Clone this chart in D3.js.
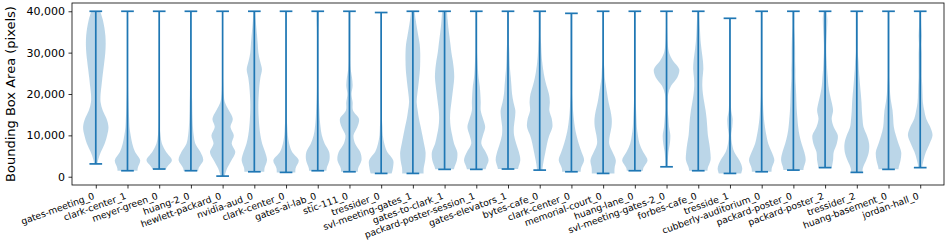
<!DOCTYPE html>
<html>
<head>
<meta charset="utf-8">
<script src="https://cdn.jsdelivr.net/npm/d3@7"></script>
<style>
  body { margin: 0; background: #fff; }
  text { font-family: "DejaVu Sans", sans-serif; fill: #000; }
</style>
</head>
<body>
<div id="violin-chart"></div>
<script>
var categories = ["gates-meeting_0", "clark-center_1", "meyer-green_0", "huang-2_0", "hewlett-packard_0",
    "nvidia-aud_0", "clark-center_0", "gates-ai-lab_0", "stic-111_0", "tressider_0", "svl-meeting-gates_1",
    "gates-to-clark_1", "packard-poster-session_1", "gates-elevators_1", "bytes-cafe_0", "clark-center_0",
    "memorial-court_0", "huang-lane_0", "svl-meeting-gates-2_0", "forbes-cafe_0", "tresside_1",
    "cubberly-auditorium_0", "packard-poster_0", "packard-poster_2", "tressider_2", "huang-basement_0",
    "jordan-hall_0"];

// min / max of each distribution (pixels)
var minValues = [3100, 1450, 1860, 1450, 150, 1200, 1050, 1450, 1200, 800, 800, 1780, 1780, 1860, 1600,
    1200, 800, 1450, 2400, 1450, 800, 1200, 1600, 2200, 1050, 1780, 2200];
var maxValues = [40000, 40000, 40000, 40000, 40000, 40000, 40000, 40000, 40000, 39700, 40000, 40000, 40000,
    40000, 40000, 39500, 40000, 40000, 40000, 40000, 38300, 40000, 40000, 40000, 40000, 40000, 40000];

// area levels where the density was read (0, 2000, ... 40000)
var areaLevels = [0, 2000, 4000, 6000, 8000, 10000, 12000, 14000, 16000, 18000, 20000,
    22000, 24000, 26000, 28000, 30000, 32000, 34000, 36000, 38000, 40000];

// relative density (% of the violin's widest point) at each level
var densities = [
    [8, 8, 18, 40, 70, 90, 100, 85, 55, 38, 38, 45, 52, 60, 68, 75, 78, 76, 68, 55, 35],
    [80, 80, 100, 60, 38, 25, 16, 13, 10, 8, 6, 5, 5, 5, 5, 5, 5, 5, 5, 5, 4],
    [55, 55, 100, 55, 22, 10, 5, 4, 3, 3, 3, 3, 3, 3, 3, 3, 3, 3, 3, 3, 3],
    [60, 60, 97, 75, 35, 22, 16, 13, 11, 10, 8, 7, 5, 5, 5, 5, 5, 5, 5, 5, 5],
    [14, 35, 70, 100, 72, 88, 62, 80, 50, 18, 8, 5, 3, 3, 3, 3, 3, 3, 3, 3, 3],
    [80, 80, 100, 85, 62, 48, 40, 35, 32, 32, 35, 40, 48, 60, 45, 32, 27, 22, 16, 11, 8],
    [75, 75, 100, 48, 25, 14, 10, 6, 5, 5, 5, 5, 5, 5, 5, 5, 5, 5, 5, 5, 5],
    [70, 70, 92, 90, 55, 32, 22, 16, 13, 10, 8, 7, 7, 7, 7, 7, 7, 7, 8, 10, 10],
    [68, 68, 95, 85, 45, 32, 62, 75, 28, 25, 16, 25, 20, 10, 7, 7, 7, 7, 7, 7, 7],
    [75, 92, 95, 48, 25, 13, 10, 6, 6, 6, 6, 6, 6, 6, 6, 6, 6, 6, 6, 6, 6],
    [85, 85, 97, 100, 88, 75, 62, 48, 38, 30, 35, 43, 50, 56, 58, 58, 54, 43, 32, 22, 14],
    [75, 75, 97, 100, 75, 60, 48, 43, 46, 54, 62, 70, 76, 73, 65, 54, 46, 38, 30, 24, 19],
    [75, 75, 97, 74, 40, 53, 70, 53, 35, 35, 32, 27, 18, 13, 10, 7, 7, 7, 7, 7, 7],
    [80, 80, 97, 86, 65, 48, 46, 54, 58, 43, 32, 27, 22, 16, 13, 11, 8, 8, 8, 8, 8],
    [22, 22, 32, 45, 58, 76, 100, 95, 76, 80, 73, 54, 38, 27, 19, 14, 11, 8, 8, 8, 8],
    [75, 75, 100, 80, 58, 40, 27, 19, 13, 10, 7, 7, 7, 7, 7, 7, 7, 7, 7, 7, 7],
    [90, 90, 100, 74, 48, 53, 66, 68, 58, 43, 32, 22, 13, 10, 5, 5, 5, 5, 5, 5, 5],
    [66, 66, 100, 66, 37, 24, 16, 13, 10, 7, 7, 7, 7, 7, 7, 7, 7, 7, 7, 7, 7],
    [8, 8, 10, 15, 26, 30, 20, 15, 10, 10, 13, 36, 85, 100, 52, 20, 10, 7, 5, 5, 5],
    [74, 74, 97, 95, 87, 76, 71, 66, 58, 47, 37, 32, 34, 40, 37, 29, 21, 16, 13, 10, 8],
    [79, 97, 74, 34, 16, 10, 18, 21, 10, 7, 5, 5, 5, 5, 5, 5, 5, 5, 5, 5, 5],
    [79, 79, 100, 79, 52, 37, 26, 18, 13, 10, 7, 7, 7, 7, 7, 7, 7, 7, 7, 7, 7],
    [80, 80, 97, 86, 65, 48, 38, 32, 27, 24, 22, 19, 16, 16, 14, 14, 13, 11, 8, 8, 8],
    [52, 52, 63, 68, 92, 100, 68, 52, 63, 52, 37, 26, 21, 16, 13, 10, 10, 13, 16, 18, 13],
    [47, 47, 74, 95, 97, 79, 53, 45, 40, 37, 32, 26, 21, 16, 13, 8, 8, 8, 8, 8, 8],
    [79, 79, 95, 100, 79, 58, 42, 37, 32, 21, 13, 10, 7, 7, 7, 7, 7, 7, 7, 7, 7],
    [13, 13, 26, 45, 74, 97, 79, 47, 32, 21, 18, 16, 13, 13, 13, 13, 10, 13, 10, 8, 8]
];

var yTicks = [0, 10000, 20000, 30000, 40000];

var margin = { top: 3, right: 8, bottom: 56, left: 72 },
    width = 952 - margin.left - margin.right,
    height = 241 - margin.top - margin.bottom;

var svg = d3.select("#violin-chart")
    .append("svg")
    .attr("width", 952)
    .attr("height", 241)
    .append("g")
    .attr("transform", "translate(" + margin.left + "," + margin.top + ")");

var x = d3.scaleLinear()
    .domain([0.25, categories.length + 0.75])
    .range([0, width]);

var y = d3.scaleLinear()
    .domain([-2000, 42000])
    .range([height, 0]);

// half width of a violin in category units (widths = 0.8)
var halfWidth = d3.scaleLinear().domain([0, 100]).range([0, 0.4]);

var color = "#1f77b4";

var defs = svg.append("defs");

categories.forEach(function (name, i) {
    var pos = i + 1;

    defs.append("clipPath")
        .attr("id", "clip-" + i)
        .append("rect")
        .attr("x", x(pos - 0.5))
        .attr("width", x(pos + 0.5) - x(pos - 0.5))
        .attr("y", y(maxValues[i]))
        .attr("height", y(minValues[i]) - y(maxValues[i]));

    var area = d3.area()
        .y(function (d, k) { return y(areaLevels[k]); })
        .x0(function (d) { return x(pos - halfWidth(d)); })
        .x1(function (d) { return x(pos + halfWidth(d)); })
        .curve(d3.curveCatmullRom.alpha(0.5));

    svg.append("path")
        .datum(densities[i])
        .attr("clip-path", "url(#clip-" + i + ")")
        .attr("fill", color)
        .attr("fill-opacity", 0.3)
        .attr("d", area);

    // center line and caps
    svg.append("line")
        .attr("x1", x(pos)).attr("x2", x(pos))
        .attr("y1", y(minValues[i])).attr("y2", y(maxValues[i]))
        .attr("stroke", color)
        .attr("stroke-width", 1.7);

    [minValues[i], maxValues[i]].forEach(function (v) {
        svg.append("line")
            .attr("x1", x(pos - 0.2)).attr("x2", x(pos + 0.2))
            .attr("y1", y(v)).attr("y2", y(v))
            .attr("stroke", color)
            .attr("stroke-width", 1.7);
    });
});

// y axis
var yAxis = svg.append("g")
    .call(d3.axisLeft(y).tickValues(yTicks).tickFormat(d3.format(",")).tickSize(3.5).tickPadding(3.5));
yAxis.select(".domain").remove();
yAxis.selectAll("line").attr("stroke", "#000").attr("stroke-width", 0.8);
yAxis.selectAll("text").style("font-size", "11px").attr("fill", "#000");

// x axis ticks
var xAxis = svg.append("g")
    .attr("transform", "translate(0," + height + ")")
    .call(d3.axisBottom(x).tickValues(d3.range(1, categories.length + 1)).tickSize(3.5).tickFormat(""));
xAxis.select(".domain").remove();
xAxis.selectAll("line").attr("stroke", "#000").attr("stroke-width", 0.8);

svg.append("g")
    .selectAll("text")
    .data(categories)
    .enter()
    .append("text")
    .attr("transform", function (d, i) {
        return "translate(" + (x(i + 1) - 0.7) + "," + (height + 13.4) + ") rotate(-20)";
    })
    .attr("text-anchor", "end")
    .style("font-size", "9.2px")
    .text(function (d) { return d; });

// frame
svg.append("rect")
    .attr("x", 0)
    .attr("y", 0)
    .attr("width", width)
    .attr("height", height)
    .attr("fill", "none")
    .attr("stroke", "#000")
    .attr("stroke-width", 0.8);

svg.append("text")
    .attr("transform", "translate(" + (-57) + "," + (height / 2) + ") rotate(-90)")
    .attr("text-anchor", "middle")
    .style("font-size", "13px")
    .text("Bounding Box Area (pixels)");
</script>
</body>
</html>
